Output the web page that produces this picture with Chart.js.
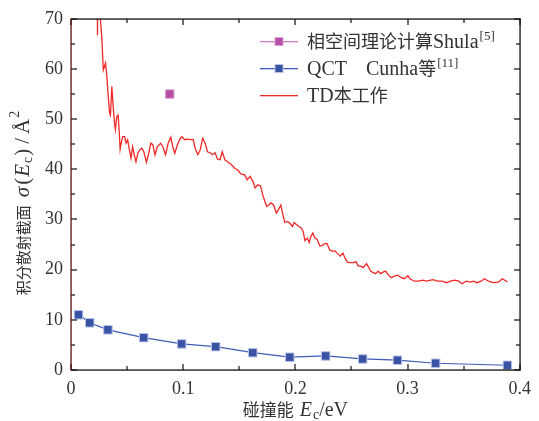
<!DOCTYPE html>
<html>
<head>
<meta charset="utf-8">
<script src="https://cdn.jsdelivr.net/npm/chart.js@4.4.1/dist/chart.umd.min.js"></script>
<style>
  html, body { margin: 0; padding: 0; background: #fff; }
  #wrap { width: 539px; height: 421px; }
</style>
</head>
<body>
<div id="wrap"><canvas id="sigma-chart"></canvas></div>
<script>
// collision energy (eV) and integral cross section (Å^2)
const tdE = [0.0230, 0.0236, 0.0242, 0.0262, 0.0276, 0.0288, 0.0297, 0.0308, 0.0320, 0.0332,
  0.0344, 0.0352, 0.0364, 0.0376, 0.0388, 0.0396, 0.0408, 0.0420, 0.0429, 0.0438,
  0.0447, 0.0461, 0.0478, 0.0491, 0.0505, 0.0520, 0.0535, 0.0549, 0.0564, 0.0579,
  0.0596, 0.0614, 0.0632, 0.0649, 0.0672, 0.0690, 0.0711, 0.0729, 0.0749, 0.0769,
  0.0799, 0.0819, 0.0843, 0.0866, 0.0890, 0.0907, 0.0925, 0.0949, 0.0969, 0.0989,
  0.1013, 0.1037, 0.1063, 0.1090, 0.1107, 0.1130, 0.1152, 0.1174, 0.1196, 0.1216,
  0.1240, 0.1260, 0.1284, 0.1307, 0.1328, 0.1348, 0.1372, 0.1401, 0.1430, 0.1460,
  0.1489, 0.1513, 0.1548, 0.1571, 0.1597, 0.1621, 0.1641, 0.1665, 0.1689, 0.1709,
  0.1724, 0.1744, 0.1762, 0.1782, 0.1806, 0.1830, 0.1848, 0.1870, 0.1885, 0.1906,
  0.1930, 0.1953, 0.1974, 0.1989, 0.2009, 0.2033, 0.2053, 0.2070, 0.2085, 0.2106,
  0.2123, 0.2138, 0.2156, 0.2174, 0.2194, 0.2218, 0.2238, 0.2262, 0.2282, 0.2306,
  0.2329, 0.2355, 0.2376, 0.2399, 0.2423, 0.2443, 0.2464, 0.2487, 0.2517, 0.2540,
  0.2561, 0.2581, 0.2605, 0.2634, 0.2655, 0.2670, 0.2693, 0.2716, 0.2737, 0.2760,
  0.2781, 0.2804, 0.2826, 0.2855, 0.2884, 0.2914, 0.2943, 0.2972, 0.3002, 0.3022,
  0.3060, 0.3099, 0.3134, 0.3169, 0.3207, 0.3227, 0.3266, 0.3310, 0.3345, 0.3383,
  0.3421, 0.3456, 0.3486, 0.3522, 0.3559, 0.3589, 0.3618, 0.3656, 0.3685, 0.3721,
  0.3765, 0.3809, 0.3844, 0.3890];
const tdSigma = [100, 66.7, 100, 70, 65.7, 59.8, 60.4, 61.2, 58.4, 54.5,
  51.2, 50.8, 56.5, 52.5, 49.2, 47.9, 50.5, 50.8, 47.9, 44.0,
  45.2, 46.5, 46.5, 45.2, 45.9, 43.9, 42.2, 44.5, 42.9, 41.5,
  43.2, 43.9, 44.2, 43.5, 41.4, 42.9, 45.2, 44.9, 42.9, 44.5,
  45.2, 44.5, 42.9, 45.2, 46.4, 44.5, 43.2, 44.9, 46.0, 46.5,
  45.9, 46.0, 45.9, 45.9, 44.2, 42.9, 43.9, 46.2, 45.2, 43.5,
  43.3, 42.9, 43.3, 42.0, 41.9, 43.5, 41.9, 41.4, 40.9, 40.2,
  39.8, 39.1, 38.9, 37.9, 38.6, 37.6, 36.3, 36.9, 36.7, 34.9,
  33.9, 32.6, 32.9, 33.3, 32.9, 31.3, 31.9, 32.9, 31.3, 29.4,
  29.6, 29.2, 28.6, 29.4, 29.0, 28.6, 28.3, 27.6, 25.8, 26.3,
  25.4, 26.6, 27.3, 26.3, 26.0, 24.7, 24.8, 25.2, 25.2, 23.9,
  23.7, 23.7, 23.2, 22.7, 23.3, 22.3, 21.5, 21.4, 21.4, 21.6,
  20.7, 20.7, 20.4, 21.2, 20.4, 19.7, 19.4, 19.2, 19.7, 19.2,
  19.5, 19.7, 19.0, 18.4, 18.7, 18.9, 18.4, 18.2, 18.8, 18.2,
  17.7, 17.7, 17.9, 17.7, 17.9, 18.0, 17.7, 17.7, 17.4, 17.7,
  17.9, 17.7, 17.2, 17.7, 17.5, 17.7, 17.4, 17.7, 18.2, 17.7,
  17.4, 17.5, 18.2, 17.6];

const qctE = [0.0067, 0.0167, 0.0329, 0.0648, 0.0986, 0.129, 0.162, 0.195, 0.227, 0.260, 0.291, 0.325, 0.389];
const qctSigma = [11.0, 9.4, 8.0, 6.45, 5.2, 4.65, 3.45, 2.55, 2.8, 2.2, 1.95, 1.35, 0.95];

const shulaE = [0.088];
const shulaSigma = [55];

const xTicks = [0, 0.1, 0.2, 0.3, 0.4];
const yTicks = [0, 10, 20, 30, 40, 50, 60, 70];

const SERIF = '"Liberation Serif", "DejaVu Serif", serif';
const CJK = '"Noto Sans CJK SC", "Noto Sans CJK JP", sans-serif';
const TEXT = '#333';

const toPts = (xs, ys) => xs.map((x, i) => ({ x: x, y: ys[i] }));

// text pieces with their own font and sub/superscript offset
function richWidth(ctx, segs) {
    let w = 0;
    segs.forEach(s => { ctx.font = s.font; w += ctx.measureText(s.t).width + (s.gap || 0); });
    return w;
}
function drawRich(ctx, segs, x, y) {
    ctx.textBaseline = 'alphabetic';
    ctx.textAlign = 'left';
    segs.forEach(s => {
        ctx.font = s.font;
        ctx.fillText(s.t, x, y + (s.dy || 0));
        x += ctx.measureText(s.t).width + (s.gap || 0);
    });
}

// inward ticks, frame, axis titles and legend
const framePlugin = {
    id: 'frame',
    afterDraw(chart) {
        const { ctx, chartArea: a, scales } = chart;
        const L = Math.round(a.left), R = Math.round(a.right);
        const T = Math.round(a.top), B = Math.round(a.bottom);
        ctx.save();
        ctx.fillStyle = '#111';
        for (let i = 0; i <= 8; i++) {
            const px = Math.round(scales.x.getPixelForValue(i * 0.05));
            const len = i % 2 === 0 ? 6 : 4;
            ctx.fillRect(px - 0.6, B - len, 1.2, len);
            ctx.fillRect(px - 0.6, T, 1.2, len);
        }
        for (let i = 0; i <= 14; i++) {
            const py = Math.round(scales.y.getPixelForValue(i * 5));
            const len = i % 2 === 0 ? 6 : 4;
            ctx.fillRect(L, py - 0.6, len, 1.2);
            ctx.fillRect(R - len, py - 0.6, len, 1.2);
        }
        ctx.fillRect(L, B - 0.6, R - L + 0.6, 1.3);
        ctx.fillRect(L, T - 0.6, R - L + 0.6, 1.3);
        ctx.fillRect(R - 0.6, T - 0.6, 1.3, B - T + 1.2);
        ctx.fillStyle = '#5c1212';
        ctx.fillRect(L - 0.6, T - 0.6, 1.3, B - T + 1.2);

        ctx.fillStyle = TEXT;
        // x title
        const xt = [
            { t: '碰撞能', font: '17px ' + CJK, gap: 6 },
            { t: 'E', font: 'italic 20px ' + SERIF, gap: 1 },
            { t: 'c', font: '14px ' + SERIF, dy: 3 },
            { t: '/eV', font: '20px ' + SERIF }
        ];
        const xw = richWidth(ctx, xt);
        drawRich(ctx, xt, (a.left + a.right) / 2 - xw / 2, 416);
        // y title
        const yt = [
            { t: '积分散射截面', font: '15px ' + CJK, gap: 8 },
            { t: 'σ', font: 'italic 21px ' + SERIF, gap: 2 },
            { t: '(', font: '21px ' + SERIF, gap: 1 },
            { t: 'E', font: 'italic 21px ' + SERIF, gap: 1 },
            { t: 'c', font: '14px ' + SERIF, dy: 3, gap: 1 },
            { t: ')', font: '21px ' + SERIF, gap: 5 },
            { t: '/', font: '21px ' + SERIF, gap: 4 },
            { t: 'Å', font: '21px ' + SERIF, gap: 1 },
            { t: '2', font: '14px ' + SERIF, dy: -10 }
        ];
        const yw = richWidth(ctx, yt);
        ctx.save();
        ctx.translate(29, 203);
        ctx.rotate(-Math.PI / 2);
        drawRich(ctx, yt, -yw / 2, 0);
        ctx.restore();

        // legend
        const rows = [
            { y: 41, line: '#d27cc2', mark: '#b64fa8', edge: '#dca0d2', segs: [
                { t: '相空间理论计算', font: '18px ' + CJK },
                { t: 'Shula', font: '20px ' + SERIF, gap: 1 },
                { t: '[5]', font: '13px ' + SERIF, dy: -8 }] },
            { y: 68, line: '#3f5cb8', mark: '#3953a4', edge: '#b9c3e6', segs: [
                { t: 'QCT', font: '20px ' + SERIF, gap: 19 },
                { t: 'Cunha', font: '20px ' + SERIF },
                { t: '等', font: '18px ' + CJK, gap: 1 },
                { t: '[11]', font: '13px ' + SERIF, dy: -8 }] },
            { y: 95, line: '#f02828', segs: [
                { t: 'TD', font: '20px ' + SERIF },
                { t: '本工作', font: '18px ' + CJK }] }
        ];
        rows.forEach(r => {
            ctx.fillStyle = r.line;
            ctx.fillRect(260, r.y, 38, 1.3);
            if (r.mark) {
                ctx.fillStyle = r.edge;
                ctx.fillRect(274.5, r.y - 4, 9, 9);
                ctx.fillStyle = r.mark;
                ctx.fillRect(275.5, r.y - 3, 7, 7);
            }
            ctx.fillStyle = TEXT;
            drawRich(ctx, r.segs, 307, r.y + 7);
        });
        ctx.restore();
    }
};

const ctx = document.getElementById('sigma-chart').getContext('2d');
const sigmaChart = new Chart(ctx, {
    type: 'scatter',
    data: {
        datasets: [
            {
                label: 'TD本工作',
                data: toPts(tdE, tdSigma),
                showLine: true,
                borderColor: '#f02828',
                borderWidth: 1.3,
                pointRadius: 0,
                tension: 0
            },
            {
                label: 'QCT Cunha等[11]',
                data: toPts(qctE, qctSigma),
                showLine: true,
                borderColor: '#3f5cb8',
                borderWidth: 1.2,
                pointStyle: 'rect',
                pointRadius: 6,
                pointBackgroundColor: '#3953a4',
                pointBorderColor: '#b9c3e6',
                pointBorderWidth: 1
            },
            {
                label: '相空间理论计算Shula[5]',
                data: toPts(shulaE, shulaSigma),
                pointStyle: 'rect',
                pointRadius: 6,
                pointBackgroundColor: '#b64fa8',
                pointBorderColor: '#dca0d2',
                pointBorderWidth: 1
            }
        ]
    },
    options: {
        responsive: true,
        maintainAspectRatio: false,
        animation: false,
        layout: { padding: { top: 18, right: 14, left: 0, bottom: 0 } },
        scales: {
            x: {
                type: 'linear',
                min: 0,
                max: 0.4,
                afterFit: s => { s.height = 51; },
                afterBuildTicks: s => { s.ticks = xTicks.map(v => ({ value: v })); },
                ticks: {
                    color: TEXT,
                    padding: 8,
                    maxRotation: 0,
                    font: { family: SERIF, size: 18 },
                    callback: v => (v === 0 ? '0' : v.toFixed(1))
                },
                grid: { display: false, drawTicks: false },
                border: { display: false }
            },
            y: {
                min: 0,
                max: 70,
                afterFit: s => { s.width = 71; },
                afterBuildTicks: s => { s.ticks = yTicks.map(v => ({ value: v })); },
                ticks: {
                    color: TEXT,
                    padding: 8,
                    font: { family: SERIF, size: 18 }
                },
                grid: { display: false, drawTicks: false },
                border: { display: false }
            }
        },
        plugins: {
            legend: { display: false },
            tooltip: { enabled: false }
        }
    },
    plugins: [framePlugin]
});
</script>
</body>
</html>
